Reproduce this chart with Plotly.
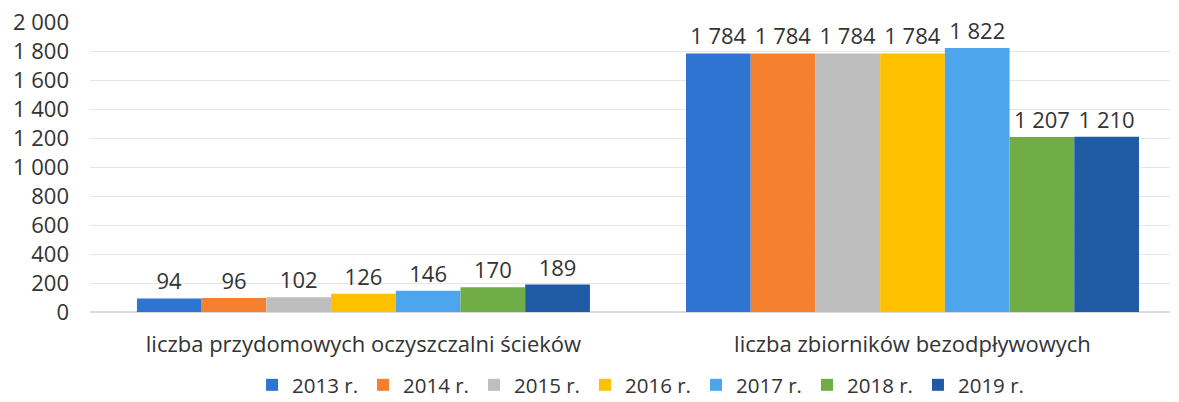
import plotly.graph_objects as go

categories = ["liczba przydomowych oczyszczalni ścieków", "liczba zbiorników bezodpływowych"]
years = ["2013 r.", "2014 r.", "2015 r.", "2016 r.", "2017 r.", "2018 r.", "2019 r."]
v2013 = [94, 1784]
v2014 = [96, 1784]
v2015 = [102, 1784]
v2016 = [126, 1784]
v2017 = [146, 1822]
v2018 = [170, 1207]
v2019 = [189, 1210]
series = [v2013, v2014, v2015, v2016, v2017, v2018, v2019]
colors = ["#2E75D2", "#F5802F", "#BEBEBE", "#FFC000", "#4DA5EE", "#70AD47", "#1F5BA5"]
y_ticks = [0, 200, 400, 600, 800, 1000, 1200, 1400, 1600, 1800, 2000]
y_ticktext = ["0", "200", "400", "600", "800", "1 000", "1 200", "1 400", "1 600", "1 800", "2 000"]

fig = go.Figure()
for name, vals, col in zip(years, series, colors):
    fig.add_trace(go.Bar(
        x=[0, 1], y=vals, name=name, marker_color=col, marker_line_width=0,
        texttemplate="%{y:,d}", textposition="outside", cliponaxis=False,
        textfont=dict(size=22, color="#333333"),
    ))

fig.update_layout(
    width=1179, height=402,
    margin=dict(l=90, r=9, t=22, b=90, autoexpand=False),
    barmode="group", bargap=0.175, bargroupgap=0,
    separators=", ",
    paper_bgcolor="white", plot_bgcolor="white",
    font=dict(family="Open Sans, Liberation Sans, sans-serif", size=21, color="#333333"),
    showlegend=True,
    legend=dict(orientation="h", xref="container", yref="container",
                x=0.5433, xanchor="center", y=0.0423, yanchor="middle",
                font=dict(size=20.5, color="#333333"), itemwidth=30,
                traceorder="normal"),
)
fig.update_xaxes(tickvals=[0, 1], ticktext=categories, range=[-0.498, 1.469],
                 showgrid=False, zeroline=False, showline=False, ticks="",
                 automargin=False, ticklabelstandoff=17,
                 tickfont=dict(size=22, color="#333333"))
fig.update_yaxes(range=[0, 2001], tickmode="array", tickvals=y_ticks, ticktext=y_ticktext,
                 showgrid=True, ticklabeloverflow="allow",
                 gridcolor="#e6e6e6", gridwidth=1, zeroline=True, zerolinecolor="#dcdcdc",
                 showline=False, ticks="", ticklabelstandoff=20, automargin=False,
                 tickfont=dict(size=22, color="#333333"))

# remove the default 8px page margin so the figure fills the window exactly
fig.write_html("out.html", config={"displayModeBar": False},
               post_script="document.body.style.margin='0px';")
